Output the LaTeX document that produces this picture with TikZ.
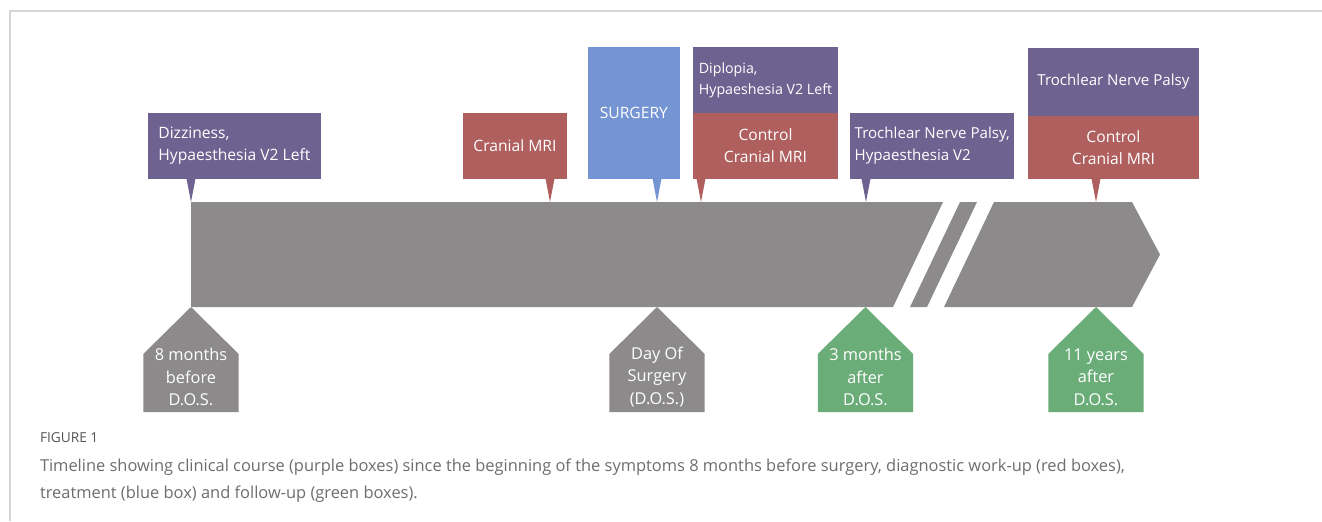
\documentclass[tikz,border=0pt]{standalone}
\usepackage{fontspec}
\setmainfont{Open Sans}
\usetikzlibrary{calc,positioning}
\definecolor{frame}{HTML}{D6D6D6}
\definecolor{bar}{HTML}{8C8A8B}
\definecolor{plum}{HTML}{6E6290}
\definecolor{brick}{HTML}{B05F5F}
\definecolor{sky}{HTML}{7494D3}
\definecolor{leaf}{HTML}{6BAD79}
\definecolor{capgrey}{HTML}{6E6E6E}
\definecolor{labgrey}{HTML}{555555}
\tikzset{
  every node/.style={inner sep=0pt,outer sep=0pt},
  box/.style={text=white,font=\fontsize{8.9}{12.5}\selectfont,align=center,minimum height=13.2mm},
  stamptext/.style={text=white,font=\fontsize{9.3}{12.8}\selectfont,align=center},
  capt/.style={text=capgrey,font=\fontsize{9.35}{12}\selectfont,anchor=base west},
}
% pointer from a box down to a point on the bar
\newcommand{\pin}[3]{\fill[#3] ($(#1.south -| #2)+(-4.6,-1)$) -- (#2) -- ($(#1.south -| #2)+(4.6,-1)$) -- cycle;}
% date tag under the bar: name, x, colour, text
\newcommand{\stamp}[4]{%
  \fill[#3] (#2-47.7,412) -- (#2-47.7,354) -- (#2,307) -- (#2+47.7,354) -- (#2+47.7,412) -- cycle;
  \node[stamptext] (#1) at (#2,377) {#4};}

\begin{document}
\begin{tikzpicture}[x=0.2mm,y=-0.2mm]
\path[use as bounding box] (0,0) rectangle (1322,521);
\fill[white] (0,0) rectangle (1322,521);
\draw[frame,line width=0.3mm] (10,521) -- (10,11) -- (1322,11);
% timeline bar with break
\fill[bar] (191,202) -- (943,202) -- (893,307) -- (191,307) -- cycle;
\fill[bar] (960,202) -- (977,202) -- (927,307) -- (910,307) -- cycle;
\fill[bar] (994,202) -- (1132,202) -- (1160,254.5) -- (1132,307) -- (944,307) -- cycle;
\coordinate (onset) at (191,202);
\coordinate (mri) at (550,202);
\coordinate (op) at (657,202);
\coordinate (ctrl) at (701,202);
\coordinate (fu) at (866,202);
\coordinate (late) at (1096,202);
% events above the bar
\node[box,fill=plum,align=left,minimum width=34.54mm] (dizzy) at (234.4,146) {Dizziness,\\Hypaesthesia V2 Left};
\pin{dizzy}{onset}{plum}
\node[box,fill=brick,minimum width=20.68mm] (mri1) at (515,146) {Cranial MRI};
\pin{mri1}{mri}{brick}
\node[box,fill=sky,minimum width=18.46mm,minimum height=26.4mm] (surg) at (633.9,113) {SURGERY};
\pin{surg}{op}{sky}
\node[box,fill=brick,minimum width=28.88mm] (mri2) at (765.5,146) {Control\\Cranial MRI};
\node[box,fill=plum,align=left,minimum width=28.88mm,font=\fontsize{8.1}{12}\selectfont,above=0pt of mri2] (diplo) {Diplopia,\\Hypaeshesia V2 Left};
\pin{mri2}{ctrl}{brick}
\node[box,fill=plum,align=left,minimum width=32.86mm,font=\fontsize{8.6}{12.5}\selectfont] (troch) at (932.2,146) {Trochlear Nerve Palsy,\\Hypaesthesia V2};
\pin{troch}{fu}{plum}
\node[box,fill=brick,minimum width=34.26mm,minimum height=12.66mm] (mri3) at (1113.4,147.4) {Control\\Cranial MRI};
\node[box,fill=plum,minimum width=34.26mm,minimum height=13.48mm,font=\fontsize{8.6}{12.5}\selectfont,above=0pt of mri3] (palsy) {Trochlear Nerve Palsy};
\pin{mri3}{late}{brick}
% dates below the bar
\stamp{pre}{191}{bar}{8 months\\before\\D.O.S.}
\stamp{dos}{657}{bar}{Day Of\\Surgery\\(D.O.S.)}
\stamp{post}{865.5}{leaf}{3 months\\after\\D.O.S.}
\stamp{years}{1096}{leaf}{11 years\\after\\D.O.S.}
% caption
\node[text=labgrey,font=\fontsize{7.8}{9}\selectfont,anchor=base west] (fig) at (40,442) {FIGURE 1};
\node[capt] (cap1) at (40,471) {Timeline showing clinical course (purple boxes) since the beginning of the symptoms 8 months before surgery, diagnostic work-up (red boxes),};
\node[capt] (cap2) at (40,498) {treatment (blue box) and follow-up (green boxes).};
\end{tikzpicture}
\end{document}
